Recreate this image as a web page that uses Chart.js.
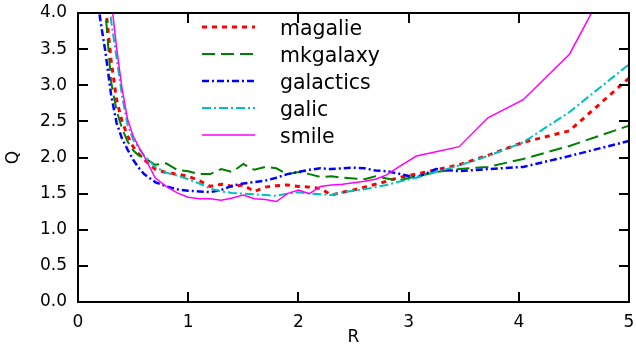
<!DOCTYPE html>
<html>
<head>
<meta charset="utf-8">
<script src="https://cdn.jsdelivr.net/npm/chart.js@4/dist/chart.umd.min.js"></script>
<style>
  html, body { margin: 0; padding: 0; background: #fff; }
  canvas { display: block; }
</style>
</head>
<body>
<canvas id="chart" width="636" height="348"></canvas>
<script>
// Radial sample points shared by all models
const radii = [0.15, 0.2, 0.25, 0.3, 0.35, 0.4, 0.45, 0.5, 0.55, 0.6,
               0.7, 0.8, 0.9, 1.0, 1.1, 1.2, 1.3, 1.4, 1.5, 1.6, 1.7, 1.8, 1.9,
               2.0, 2.1, 2.2, 2.3, 2.4, 2.5, 2.6, 2.7, 2.8, 2.9,
               3.07, 3.25, 3.46, 3.72, 4.04, 4.46, 5.0];

// Toomre Q profiles for each initial-conditions generator
const magalie   = [6.0, 5.0, 4.1, 3.35, 2.8, 2.5, 2.3, 2.15, 2.05, 1.97,
                   1.84, 1.79, 1.77, 1.74, 1.68, 1.60, 1.63, 1.60, 1.62, 1.53, 1.59, 1.61, 1.62,
                   1.60, 1.59, 1.57, 1.48, 1.52, 1.55, 1.59, 1.63, 1.67, 1.72,
                   1.77, 1.83, 1.90, 2.03, 2.21, 2.37, 3.10];
const mkgalaxy  = [6.0, 4.7, 4.0, 3.05, 2.65, 2.4, 2.22, 2.1, 2.03, 2.0,
                   1.90, 1.92, 1.83, 1.81, 1.77, 1.77, 1.84, 1.80, 1.91, 1.83, 1.87, 1.85, 1.77,
                   1.80, 1.77, 1.73, 1.74, 1.72, 1.71, 1.70, 1.74, 1.71, 1.68,
                   1.74, 1.80, 1.84, 1.87, 1.98, 2.16, 2.44];
const galactics = [4.6, 3.93, 3.45, 2.87, 2.48, 2.26, 2.11, 1.97, 1.86, 1.77,
                   1.66, 1.60, 1.56, 1.54, 1.53, 1.52, 1.55, 1.61, 1.64, 1.66, 1.68, 1.72, 1.77,
                   1.80, 1.83, 1.85, 1.84, 1.85, 1.86, 1.85, 1.82, 1.81, 1.78,
                   1.72, 1.84, 1.81, 1.84, 1.87, 2.02, 2.23];
const galic     = [7.0, 6.0, 4.8, 3.9, 3.38, 2.85, 2.45, 2.25, 2.13, 2.03,
                   1.87, 1.79, 1.75, 1.70, 1.64, 1.57, 1.53, 1.51, 1.50, 1.49, 1.48, 1.47, 1.50,
                   1.52, 1.50, 1.49, 1.48, 1.52, 1.54, 1.56, 1.59, 1.62, 1.66,
                   1.72, 1.80, 1.89, 2.02, 2.21, 2.63, 3.29];
const smile     = [8.0, 7.0, 5.2, 4.2, 3.52, 2.95, 2.53, 2.3, 2.15, 2.02,
                   1.72, 1.60, 1.51, 1.45, 1.43, 1.43, 1.41, 1.44, 1.48, 1.43, 1.42, 1.39, 1.50,
                   1.55, 1.50, 1.60, 1.62, 1.63, 1.65, 1.67, 1.70, 1.76, 1.86,
                   2.02, 2.08, 2.15, 2.55, 2.80, 3.43, 4.97];

const seriesNames = ['magalie', 'mkgalaxy', 'galactics', 'galic', 'smile'];
const seriesValues = [magalie, mkgalaxy, galactics, galic, smile];

const xTicks = [0, 1, 2, 3, 4, 5];
const yTicks = [0, 0.5, 1, 1.5, 2, 2.5, 3, 3.5, 4];

const styles = [
  { color: '#ff0000', width: 3,   dash: [5, 5] },
  { color: '#008000', width: 2,   dash: [13, 6] },
  { color: '#0000ff', width: 2.5, dash: [7, 3, 2, 3] },
  { color: '#00bfbf', width: 2,   dash: [9, 3, 2, 3] },
  { color: '#ff00ff', width: 1.5, dash: [] }
];

const FONT = "'DejaVu Sans', sans-serif";
Chart.defaults.font.family = FONT;
Chart.defaults.font.size = 17;
Chart.defaults.color = '#000';

const datasets = seriesNames.map((name, i) => ({
  label: name,
  data: radii.map((r, k) => ({ x: r, y: seriesValues[i][k] })),
  borderColor: styles[i].color,
  borderWidth: styles[i].width,
  borderDash: styles[i].dash,
  pointRadius: 0,
  clip: 0,
  order: seriesNames.length - 1 - i
}));

// Box frame with inward tick marks on all four sides, plus the legend
const decorPlugin = {
  id: 'boxDecor',
  afterDraw(chart) {
    const ctx = chart.ctx;
    const a = chart.chartArea;
    const xs = chart.scales.x, ys = chart.scales.y;
    const L = Math.round(a.left), R = Math.round(a.right);
    const T = Math.round(a.top), B = Math.round(a.bottom);
    ctx.save();
    ctx.fillStyle = '#000';
    ctx.fillRect(L - 1, T - 1, R - L + 2, 2);
    ctx.fillRect(L - 1, B - 1, R - L + 2, 2);
    ctx.fillRect(L - 1, T - 1, 2, B - T + 2);
    ctx.fillRect(R - 1, T - 1, 2, B - T + 2);
    xTicks.forEach(v => {
      const px = Math.round(xs.getPixelForValue(v));
      ctx.fillRect(px - 1, B - 10, 2, 10);
      ctx.fillRect(px - 1, T, 2, 10);
    });
    yTicks.forEach(v => {
      const py = Math.round(ys.getPixelForValue(v));
      ctx.fillRect(L, py - 1, 10, 2);
      ctx.fillRect(R - 10, py - 1, 10, 2);
    });

    ctx.font = "20.5px " + FONT;
    ctx.textAlign = 'left';
    chart.data.datasets.forEach((ds, i) => {
      const y = 27 + i * 27;
      ctx.strokeStyle = ds.borderColor;
      ctx.lineWidth = ds.borderWidth;
      ctx.setLineDash(ds.borderDash);
      ctx.beginPath();
      ctx.moveTo(202, y);
      ctx.lineTo(255, y);
      ctx.stroke();
      ctx.fillText(ds.label, 280, y + 7.5);
    });
    ctx.restore();
  }
};

new Chart(document.getElementById('chart'), {
  type: 'line',
  data: { datasets },
  plugins: [decorPlugin],
  options: {
    responsive: false,
    animation: false,
    devicePixelRatio: 1,
    layout: { padding: { left: 0, right: 7, top: 13, bottom: 0 } },
    plugins: { legend: { display: false }, tooltip: { enabled: false } },
    scales: {
      x: {
        type: 'linear', min: 0, max: 5,
        afterBuildTicks: s => { s.ticks = xTicks.map(v => ({ value: v })); },
        afterFit: s => { s.height = 46; s.paddingLeft = 0; s.paddingRight = 0; },
        grid: { display: false, drawTicks: false },
        border: { display: false },
        ticks: {
          color: '#000', padding: 10, maxRotation: 0, autoSkip: false,
          font: { family: FONT, size: 17 },
          callback: v => String(v)
        },
        title: {
          display: true, text: 'R', color: '#000',
          font: { family: FONT, size: 17 }, padding: { top: 0, bottom: 0 }
        }
      },
      y: {
        type: 'linear', min: 0, max: 4,
        afterBuildTicks: s => { s.ticks = yTicks.map(v => ({ value: v })); },
        afterFit: s => { s.width = 78; s.paddingTop = 0; s.paddingBottom = 0; },
        grid: { display: false, drawTicks: false },
        border: { display: false },
        ticks: {
          color: '#000', padding: 11, font: { family: FONT, size: 17 },
          callback: v => Number(v).toFixed(1)
        },
        title: {
          display: true, text: 'Q', color: '#000',
          font: { family: FONT, size: 17 }, padding: { top: 3, bottom: 0 }
        }
      }
    }
  }
});
</script>
</body>
</html>
